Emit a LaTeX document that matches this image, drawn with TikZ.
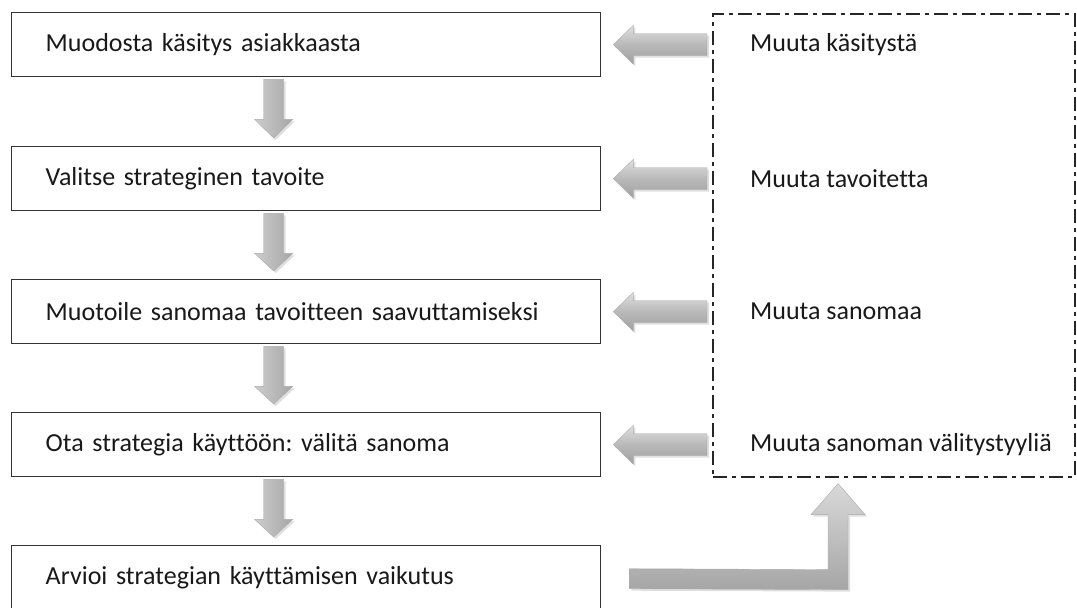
\documentclass[tikz,border=0pt]{standalone}
\usepackage{fontspec}
\setmainfont{Carlito}[Ligatures=NoCommon]
\usetikzlibrary{calc,shadows}
\begin{document}
\frenchspacing
\begin{tikzpicture}[x=1pt,y=-1pt,
  stepbox/.style={draw=black!80, line width=1.4pt, fill=white, anchor=north west,
    minimum width=589pt, minimum height=64pt, text width=521pt, inner xsep=34pt,
    inner ysep=0pt, align=left, font=\fontsize{26}{30}\selectfont, text=black!90},
  sidetext/.style={anchor=west, inner sep=0pt, font=\fontsize{26}{30}\selectfont, text=black!90},
  fbbox/.style={draw=black!85, line width=1.6pt, dash pattern=on 14pt off 5pt on 4pt off 5pt,
    anchor=north west, minimum width=362pt, minimum height=463pt, inner sep=0pt},
  harrow/.style={draw=gray!65, line width=0.4pt, top color=gray!25, bottom color=gray!75,
    middle color=gray!55, drop shadow={opacity=0.25, shadow xshift=2pt, shadow yshift=-2pt}},
  varrow/.style={draw=gray!65, line width=0.4pt, left color=gray!40, right color=gray!70,
    drop shadow={opacity=0.25, shadow xshift=2pt, shadow yshift=-2pt}},
  barrow/.style={draw=gray!65, line width=0.4pt, top color=gray!30, bottom color=gray!70,
    drop shadow={opacity=0.25, shadow xshift=2pt, shadow yshift=-2pt}}]
\useasboundingbox (0,0) rectangle (1077,608);
\clip (0,0) rectangle (1077,608);
\fill[white] (0,0) rectangle (1077,608);

\node[stepbox] (b1) at (11,12) {Muodosta käsitys asiakkaasta};
\node[stepbox] (b2) at (11,146) {Valitse strateginen tavoite};
\node[stepbox] (b3) at (11,279) {Muotoile sanomaa tavoitteen saavuttamiseksi};
\node[stepbox] (b4) at (11,412) {Ota strategia käyttöön: välitä sanoma};
\node[stepbox] (b5) at (11,545) {Arvioi strategian käyttämisen vaikutus};

\node[fbbox] (fb) at (712,13) {};

\node[sidetext] (m1) at (b1.center -| 750,0) {Muuta käsitystä};
\node[sidetext] (m2) at (b2.center -| 750,0) {Muuta tavoitetta};
\node[sidetext] (m3) at (b3.center -| 750,0) {Muuta sanomaa};
\node[sidetext] (m4) at (b4.center -| 750,0) {Muuta sanoman välitystyyliä};

% down arrows
\foreach \a/\b in {b1/b2,b2/b3,b3/b4,b4/b5}{
  \path[varrow] ($(\a.south)+(-42.5,2)$) -- ++(20,0) -- ++(0,40) -- ++(9,0)
    -- ($(\b.north)+(-32.5,-8)$) -- ($(\a.south)+(-51.5,42)$) -- ++(9,0) -- cycle;
}

% left arrows
\foreach \b in {b1,b2,b3,b4}{
  \path[harrow] ($(\b.east)+(12,0)$) -- ++(20,-19.5) -- ++(0,8.5)
    -- ($(fb.west|-\b.east)+(-5,-11)$) -- ++(0,22) -- ($(\b.east)+(32,11)$)
    -- ++(0,8.5) -- cycle;
}

% bent arrow
\coordinate (tip) at ($(fb.south west)+(126,6)$);
\path[barrow] ($(b5.east)+(28,-9)$) -- ($(tip)+(-10,86)$) -- ($(tip)+(-10,31)$)
  -- ($(tip)+(-27,31)$) -- (tip) -- ($(tip)+(27,31)$) -- ($(tip)+(10,31)$)
  -- ($(tip)+(10,106)$) -- ($(b5.east)+(28,11)$) -- cycle;
\end{tikzpicture}
\end{document}
